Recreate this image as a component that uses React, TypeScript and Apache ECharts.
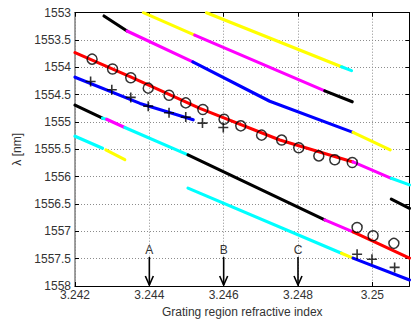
import React, { useEffect, useRef } from 'react';
import * as echarts from 'echarts';

// Axes
const xMin = 3.242;
const xMax = 3.251;
const xStep = 0.002;
const yMin = 1553;
const yMax = 1558;
const yStep = 0.5;

// Traces (breakpoints in data units); colour of each piece between consecutive breakpoints, null = gap
const traceAx = [3.24384, 3.24522, 3.24872, 3.24946];
const traceAy = [1553.0, 1553.41, 1554.43, 1554.63];
const traceAc = ['yellow', 'magenta', 'black'];

const traceBx = [3.24554, 3.24917, 3.24944];
const traceBy = [1553.0, 1553.99, 1554.06];
const traceBc = ['yellow', 'cyan'];

const traceCx = [3.24278, 3.2434, 3.24517, 3.24724, 3.24948, 3.25048];
const traceCy = [1553.06, 1553.335, 1553.9, 1554.62, 1555.19, 1555.51];
const traceCc = ['black', 'magenta', 'blue', 'blue', 'yellow'];

const traceDx = [3.242, 3.24348, 3.24536, 3.24751, 3.24948, 3.25051, 3.251];
const traceDy = [1553.73, 1554.17, 1554.75, 1555.33, 1555.73, 1556.03, 1556.15];
const traceDc = ['red', 'red', 'red', 'red', 'magenta', 'cyan'];

const traceEx = [3.242, 3.24375, 3.24518];
const traceEy = [1554.18, 1554.66, 1554.96];
const traceEc = ['blue', 'blue'];

const traceFx = [3.242, 3.24274, 3.24285, 3.24334, 3.24504, 3.24872, 3.24948, 3.251];
const traceFy = [1554.69, 1554.93, 1554.95, 1555.1, 1555.6, 1556.79, 1557.01, 1557.49];
const traceFc = ['black', 'cyan', 'magenta', 'cyan', 'black', 'magenta', 'red'];

const traceGx = [3.242, 3.24274, 3.24283, 3.24334, 3.24504, 3.24917, 3.24948, 3.251];
const traceGy = [1555.26, 1555.48, 1555.51, 1555.69, 1556.21, 1557.4, 1557.49, 1557.89];
const traceGc = ['cyan', null, 'yellow', null, 'cyan', 'yellow', 'blue'];

const traceHx = [3.25051, 3.251];
const traceHy = [1556.41, 1556.58];
const traceHc = ['black'];

// Circle markers
const circleX = [3.24246, 3.24301, 3.2435, 3.24397, 3.24453, 3.24498, 3.24544, 3.24601, 3.24646, 3.24702, 3.24756, 3.24802, 3.24856, 3.24899, 3.24946, 3.24959, 3.25002, 3.25058];
const circleY = [1553.85, 1554.03, 1554.19, 1554.38, 1554.51, 1554.65, 1554.77, 1554.95, 1555.07, 1555.24, 1555.33, 1555.47, 1555.62, 1555.69, 1555.74, 1556.93, 1557.08, 1557.22];

// Plus markers
const plusX = [3.24242, 3.24299, 3.2435, 3.24397, 3.24453, 3.24498, 3.24543, 3.24599, 3.24959, 3.24999, 3.2506];
const plusY = [1554.26, 1554.41, 1554.55, 1554.71, 1554.83, 1554.91, 1555.02, 1555.1, 1557.42, 1557.51, 1557.66];

// Arrow annotations
const arrowX = [3.244, 3.246, 3.248];
const arrowLabels = ['A', 'B', 'C'];
const arrowStartY = 1557.47;
const arrowTipY = 1558;

const palette: Record<string, string> = {
  yellow: '#ffff00',
  magenta: '#ff00ff',
  blue: '#0000ff',
  cyan: '#00ffff',
  red: '#ff0000',
  black: '#000000',
};

const traces = [
  { x: traceAx, y: traceAy, c: traceAc },
  { x: traceBx, y: traceBy, c: traceBc },
  { x: traceCx, y: traceCy, c: traceCc },
  { x: traceDx, y: traceDy, c: traceDc },
  { x: traceEx, y: traceEy, c: traceEc },
  { x: traceFx, y: traceFy, c: traceFc },
  { x: traceGx, y: traceGy, c: traceGc },
  { x: traceHx, y: traceHy, c: traceHc },
];

const FONT = 'Liberation Sans, Arial, sans-serif';
const TXT = '#333333';

function buildSeries() {
  const series: any[] = [];
  traces.forEach((t) => {
    let i = 0;
    while (i < t.x.length - 1) {
      const col = t.c[i];
      if (!col) { i++; continue; }
      const pts: number[][] = [[t.x[i], t.y[i]]];
      let j = i;
      while (j < t.x.length - 1 && t.c[j] === col) {
        pts.push([t.x[j + 1], t.y[j + 1]]);
        j++;
      }
      series.push({
        type: 'line',
        data: pts,
        showSymbol: false,
        symbol: 'none',
        silent: true,
        z: 2,
        lineStyle: { color: palette[col], width: 3.1, cap: 'round', join: 'round' },
      });
      i = j;
    }
  });
  series.push({
    type: 'scatter',
    data: circleX.map((x, k) => [x, circleY[k]]),
    symbol: 'circle',
    symbolSize: 10,
    z: 5,
    itemStyle: { color: 'rgba(0,0,0,0)', borderColor: '#000', borderWidth: 1.5 },
  });
  series.push({
    type: 'scatter',
    data: plusX.map((x, k) => [x, plusY[k]]),
    symbol: 'path://M4.2,0h1.6v4.2h4.2v1.6h-4.2v4.2h-1.6v-4.2h-4.2v-1.6h4.2z',
    symbolSize: 10,
    symbolKeepAspect: true,
    z: 5,
    itemStyle: { color: '#000' },
  });
  series.push({
    type: 'custom',
    z: 6,
    data: arrowX.map((x, k) => [x, arrowStartY, arrowTipY, k]),
    renderItem: (params: any, api: any) => {
      const x = api.value(0);
      const p0 = api.coord([x, api.value(1)]);
      const p1 = api.coord([x, api.value(2)]);
      const label = arrowLabels[api.value(3)];
      return {
        type: 'group',
        children: [
          {
            type: 'line',
            shape: { x1: p0[0], y1: p0[1], x2: p1[0], y2: p1[1] - 1 },
            style: { stroke: '#000', lineWidth: 1.6 },
          },
          {
            type: 'polyline',
            shape: { points: [[p1[0] - 4, p1[1] - 10], [p1[0], p1[1] - 1], [p1[0] + 4, p1[1] - 10]] },
            style: { stroke: '#000', fill: 'none', lineWidth: 1.6 },
          },
          {
            type: 'text',
            x: p0[0],
            y: p0[1] - 1,
            style: {
              text: label,
              align: 'center',
              verticalAlign: 'bottom',
              textAlign: 'center',
              textVerticalAlign: 'bottom',
              fill: TXT,
              fontSize: 12,
              fontFamily: FONT,
            },
          },
        ],
      };
    },
  });
  return series;
}

export default function App() {
  const ref = useRef<HTMLDivElement>(null);
  useEffect(() => {
    if (!ref.current) return;
    const chart = echarts.init(ref.current, null, { renderer: 'svg' });
    const xFmt = (v: number) => {
      const k = (v - xMin) / xStep;
      if (Math.abs(k - Math.round(k)) > 1e-6) return '';
      return String(parseFloat(v.toFixed(3)));
    };
    chart.setOption({
      animation: false,
      backgroundColor: '#ffffff',
      textStyle: { fontFamily: FONT },
      grid: { left: 75, right: 4.5, top: 12.7, bottom: 39, containLabel: false },
      xAxis: [
        {
          type: 'value',
          min: xMin,
          max: xMax,
          interval: xStep,
          position: 'bottom',
          name: 'Grating region refractive index',
          nameLocation: 'middle',
          nameGap: 18,
          nameTextStyle: { color: TXT, fontSize: 12, fontFamily: FONT },
          axisLine: { show: true, lineStyle: { color: '#000', width: 1 } },
          axisTick: { show: true, inside: true, length: 4, lineStyle: { color: '#000' } },
          axisLabel: { color: TXT, fontSize: 12, fontFamily: FONT, margin: 3, formatter: xFmt },
          splitLine: { show: true, lineStyle: { color: '#8c8c8c', type: [1, 2], width: 1 } },
        },
        {
          type: 'value',
          min: xMin,
          max: xMax,
          interval: xStep,
          position: 'top',
          axisLine: { show: true, lineStyle: { color: '#000', width: 1 } },
          axisTick: { show: true, inside: true, length: 4, lineStyle: { color: '#000' } },
          axisLabel: { show: false },
          splitLine: { show: false },
        },
      ],
      yAxis: [
        {
          type: 'value',
          min: yMin,
          max: yMax,
          interval: yStep,
          inverse: true,
          position: 'left',
          name: 'λ [nm]',
          nameLocation: 'middle',
          nameGap: 46,
          nameTextStyle: { color: TXT, fontSize: 12, fontFamily: FONT },
          axisLine: { show: true, lineStyle: { color: '#808080', width: 1.5 } },
          axisTick: { show: true, inside: true, length: 4, lineStyle: { color: '#000' } },
          axisLabel: { color: TXT, fontSize: 12, fontFamily: FONT, margin: 4, formatter: (v: number) => String(v) },
          splitLine: { show: true, lineStyle: { color: '#8c8c8c', type: [1, 2], width: 1 } },
        },
        {
          type: 'value',
          min: yMin,
          max: yMax,
          interval: yStep,
          inverse: true,
          position: 'right',
          axisLine: { show: true, lineStyle: { color: '#000', width: 1 } },
          axisTick: { show: true, inside: true, length: 4, lineStyle: { color: '#000' } },
          axisLabel: { show: false },
          splitLine: { show: false },
        },
      ],
      series: buildSeries(),
    });
    return () => chart.dispose();
  }, []);
  return <div ref={ref} style={{ position: 'fixed', left: 0, top: 0, width: 414, height: 325 }} />;
}
